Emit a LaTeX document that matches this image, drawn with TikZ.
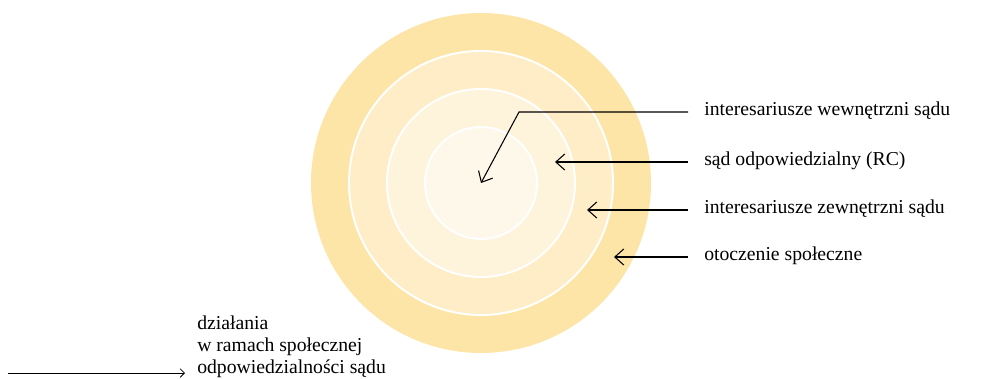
\documentclass[tikz,border=0pt]{standalone}
\usepackage{fontspec}
\setmainfont{Liberation Serif}
\usetikzlibrary{positioning,arrows.meta}
\definecolor{ringA}{HTML}{FDE5A8}
\definecolor{ringB}{HTML}{FEEDC6}
\definecolor{ringC}{HTML}{FEF3DB}
\definecolor{ringD}{HTML}{FEF8EB}

\begin{document}
\begin{tikzpicture}[x=0.025cm, y=-0.025cm, font=\fontsize{14}{15.6}\selectfont,
  lbl/.style={anchor=west, inner xsep=0.4cm, inner ysep=0pt, text height=0.7em, text depth=0.25em},
  ptr/.style={line width=0.75pt, -{Straight Barb[length=6.4pt, width=11.4pt]}},
  ptrsmall/.style={line width=0.6pt, -{Straight Barb[length=3pt, width=6pt]}},
  sep/.style={draw=white, line width=1.4pt}]
\useasboundingbox (0,0) rectangle (984,379);
% rings, outer to inner; white lines between them
\fill[ringA] (481,183) circle (170);
\filldraw[ringB, sep] (481,183) circle (132);
\filldraw[ringC, sep] (481,183) circle (94);
\filldraw[ringD, sep] (481,183) circle (56);

% arrow tips inside the rings
\coordinate (tcenter) at (481,183);
\coordinate (kwew) at (519,112);
\coordinate (tsad) at (555,162);
\coordinate (tzew) at (587,210);
\coordinate (totocz) at (614,257);

% labels on the right
\node[lbl] (lwew) at (688,112) {interesariusze wewnętrzni sądu};
\node[lbl] (lsad) at (688,162) {sąd odpowiedzialny (RC)};
\node[lbl] (lzew) at (688,210) {interesariusze zewnętrzni sądu};
\node[lbl] (lotocz) at (688,257) {otoczenie społeczne};

\draw[ptr] (lwew.west) -- (kwew) -- (tcenter);
\draw[ptr] (lsad.west) -- (tsad);
\draw[ptr] (lzew.west) -- (tzew);
\draw[ptr] (lotocz.west) -- (totocz);

% bottom left note
\node[anchor=south west, inner sep=0pt, align=left] (ldzial) at (197,378)
  {działania\\w ramach społecznej\\odpowiedzialności sądu};
\coordinate (dstart) at (8,373);
\draw[ptrsmall, shorten >=0.3cm] (dstart) -- (dstart -| ldzial.west);
\end{tikzpicture}
\end{document}
